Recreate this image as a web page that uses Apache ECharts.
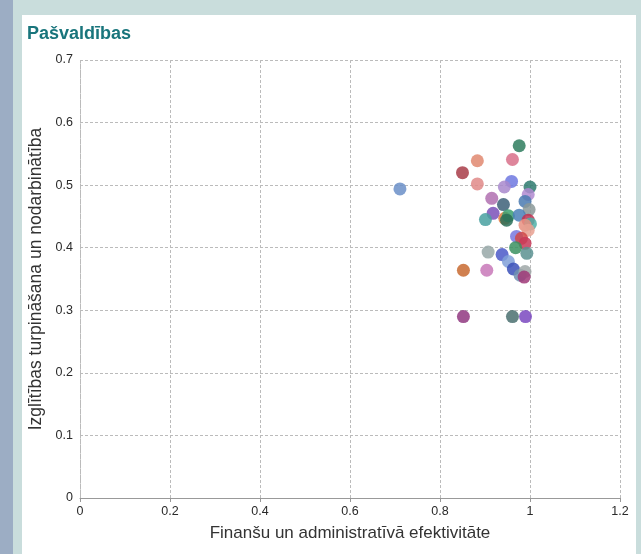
<!DOCTYPE html>
<html>
<head>
<meta charset="utf-8">
<script src="https://cdn.jsdelivr.net/npm/echarts@6/dist/echarts.min.js"></script>
<style>
  html, body { margin:0; padding:0; width:641px; height:554px; overflow:hidden; background:#c9dddc; }
  #stripe { position:absolute; left:0; top:0; width:13px; height:554px; background:#9cadc4; }
  #chart { position:absolute; left:22px; top:15px; width:614px; height:539px; background:#ffffff; }
</style>
</head>
<body>
<div id="stripe"></div>
<div id="chart"></div>
<script>
const titleText = "Pašvaldības";
const xAxisName = "Finanšu un administratīvā efektivitāte";
const yAxisName = "Izglītības turpināšana un nodarbinātība";

const xValues = [0.711, 0.850, 0.883, 0.883, 0.961, 0.976, 0.959, 0.943, 1.000, 0.996,
                 0.915, 0.941, 0.989, 0.998, 0.918, 0.901, 0.944, 0.952, 0.948, 0.976,
                 0.996, 1.001, 0.989, 0.996, 0.970, 0.981, 0.989, 0.968, 0.993, 0.907,
                 0.938, 0.952, 0.963, 0.978, 0.989, 0.987, 0.852, 0.904, 0.852, 0.961,
                 0.990];
const yValues = [0.494, 0.520, 0.539, 0.502, 0.541, 0.563, 0.506, 0.497, 0.497, 0.485,
                 0.479, 0.469, 0.474, 0.461, 0.455, 0.445, 0.447, 0.451, 0.444, 0.452,
                 0.444, 0.438, 0.436, 0.428, 0.418, 0.415, 0.407, 0.400, 0.391, 0.393,
                 0.389, 0.378, 0.366, 0.356, 0.362, 0.353, 0.364, 0.364, 0.290, 0.290,
                 0.290];
const pointColors = ["#6b8fc8", "#a83c48", "#e08870", "#e08a88", "#d8708a", "#2e7d5e", "#6f78e0", "#a888cc", "#2e7a6e", "#b08ad0",
                     "#b070b0", "#3d6078", "#4a7ab0", "#8a9898", "#7a50b8", "#48a0a0", "#e07a40", "#3aa070", "#2a6e58", "#4a80b8",
                     "#c03050", "#50b0a8", "#e89080", "#e8a090", "#7878e0", "#d04848", "#c83858", "#3a9060", "#5a9090", "#98a8a8",
                     "#4a58c8", "#80a0d8", "#3a50b8", "#7090b0", "#a0a8a8", "#a03878", "#c86a30", "#c878b8", "#903880", "#4a7070",
                     "#7a48c0"];

const chart = echarts.init(document.getElementById('chart'), null, { renderer: 'canvas' });

const data = xValues.map((x, i) => ({
  value: [x, yValues[i]],
  itemStyle: { color: pointColors[i] }
}));

const labelStyle = { color: '#2a2a2a', fontSize: 12.5, fontFamily: 'Liberation Sans, Arial, sans-serif' };

chart.setOption({
  animation: false,
  backgroundColor: '#ffffff',
  title: {
    text: titleText,
    left: 0, top: 5,
    textStyle: { color: '#19757c', fontSize: 18, fontWeight: 'bold', fontFamily: 'Liberation Sans Narrow, Arial Narrow, Liberation Sans, sans-serif' }
  },
  grid: { left: 58, right: 16, top: 45, bottom: 56, containLabel: false, outerBoundsMode: 'none' },
  xAxis: {
    type: 'value', min: 0, max: 1.2, interval: 0.2,
    name: xAxisName, nameLocation: 'middle', nameGap: 27,
    nameTextStyle: { color: '#333', fontSize: 17, fontFamily: 'Liberation Sans, Arial, sans-serif' },
    axisLine: { show: true, lineStyle: { color: '#999', width: 1 } },
    axisTick: { show: true, length: 4, lineStyle: { color: '#999' } },
    axisLabel: Object.assign({ margin: 7 }, labelStyle),
    splitLine: { show: true, lineStyle: { color: '#bbbbbb', type: [3, 2], width: 1 } }
  },
  yAxis: {
    type: 'value', min: 0, max: 0.7, interval: 0.1,
    name: yAxisName, nameLocation: 'middle', nameGap: 35, nameRotate: 90,
    nameTextStyle: { color: '#333', fontSize: 17.5, fontFamily: 'Liberation Sans, Arial, sans-serif' },
    axisLine: { show: true, lineStyle: { color: '#bbbbbb', type: [2, 1], width: 1 } },
    axisTick: { show: false },
    axisLabel: Object.assign({ margin: 7 }, labelStyle),
    splitLine: { show: true, lineStyle: { color: '#bbbbbb', type: [3, 2], width: 1 } }
  },
  series: [{
    type: 'scatter',
    symbolSize: 13,
    itemStyle: { opacity: 0.85 },
    data: data
  }]
});
</script>
</body>
</html>
